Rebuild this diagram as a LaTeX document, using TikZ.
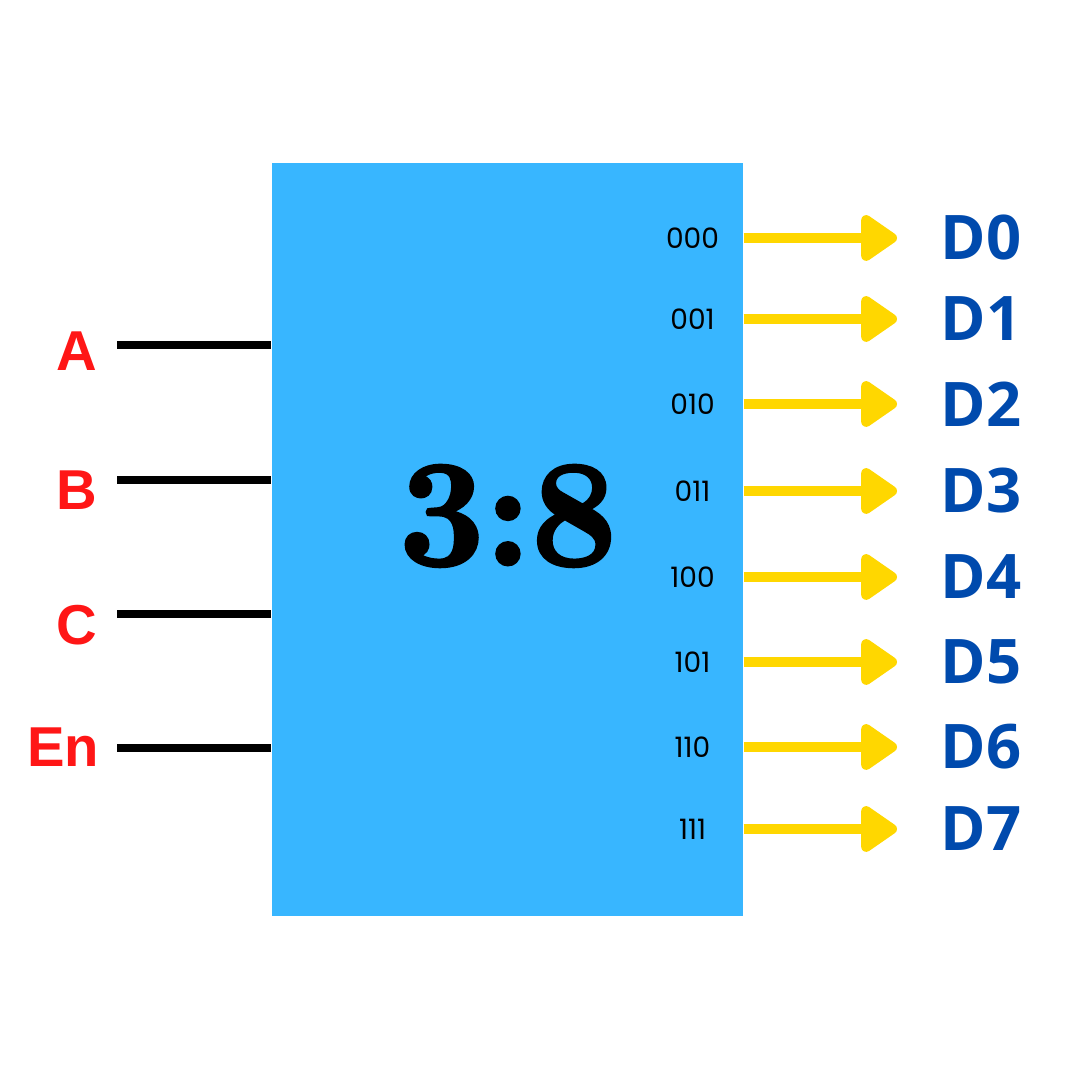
\documentclass[tikz,border=0pt]{standalone}
\usepackage{fontspec}
\usetikzlibrary{arrows.meta,calc}
\newfontfamily\pinfont{Liberation Sans}
\newfontfamily\outfont{Open Sans}
\newfontfamily\codefont{Poppins}
\newfontfamily\fatfont[BoldFeatures={FakeBold=2.4}]{Latin Modern Roman}
\definecolor{decBlue}{HTML}{38B6FF}
\definecolor{outBlue}{HTML}{004AAD}
\definecolor{pinRed}{HTML}{FF1616}
\definecolor{wireYellow}{HTML}{FFD700}

\begin{document}
\begin{tikzpicture}[
  line cap=butt,
  wire/.style={black, line width=0.08cm},
  outwire/.style={wireYellow, line width=0.1cm,
    -{Triangle[length=0.4cm, width=0.52cm, round]}},
  pinlbl/.style={text=pinRed, font=\pinfont\bfseries\fontsize{16}{18}\selectfont, inner sep=0pt},
  outlbl/.style={text=outBlue, font=\outfont\bfseries\fontsize{17.5}{20}\selectfont, inner sep=0pt, anchor=west},
  codelbl/.style={font=\codefont\fontsize{8}{10}\selectfont, inner sep=0pt}
]
  % Canvas
  \useasboundingbox (0,0) rectangle (10.8,10.8);

  % Decoder block
  \node[fill=decBlue, minimum width=4.71cm, minimum height=7.53cm, inner sep=0pt] (dec) at (5.075,5.405) {};
  \node[font=\fatfont\bfseries\fontsize{43}{43}\selectfont, inner sep=0pt] (ratio) at (5.08,5.64) {3:8};

  % Inputs (select lines and enable)
  \coordinate (wA) at (1.17,7.35);
  \coordinate (wB) at (1.17,6.00);
  \coordinate (wC) at (1.17,4.66);
  \coordinate (wEn) at (1.17,3.32);
  \draw[wire] (wA) -- (wA -| dec.west);
  \draw[wire] (wB) -- (wB -| dec.west);
  \draw[wire] (wC) -- (wC -| dec.west);
  \draw[wire] (wEn) -- (wEn -| dec.west);

  \node[pinlbl, anchor=east] (labA) at (0.975,7.29) {A};
  \node[pinlbl, anchor=east] (labB) at (0.975,5.90) {B};
  \node[pinlbl, anchor=east] (labC) at (0.975,4.55) {C};
  \node[pinlbl, anchor=east] (labEn) at (1.00,3.33) {En};

  % Outputs D0..D7
  \foreach \code/\y [count=\i from 0] in {000/8.42, 001/7.61, 010/6.76, 011/5.89,
                                          100/5.03, 101/4.18, 110/3.33, 111/2.51} {
    \node[codelbl] (code\i) at (6.925,\y) {\code};
    \coordinate (tip\i) at (8.97,\y);
    \draw[outwire] (tip\i -| dec.east) -- (tip\i);
    \node[outlbl] (D\i) at (9.40,\y) {D\i};
  }
\end{tikzpicture}
\end{document}
